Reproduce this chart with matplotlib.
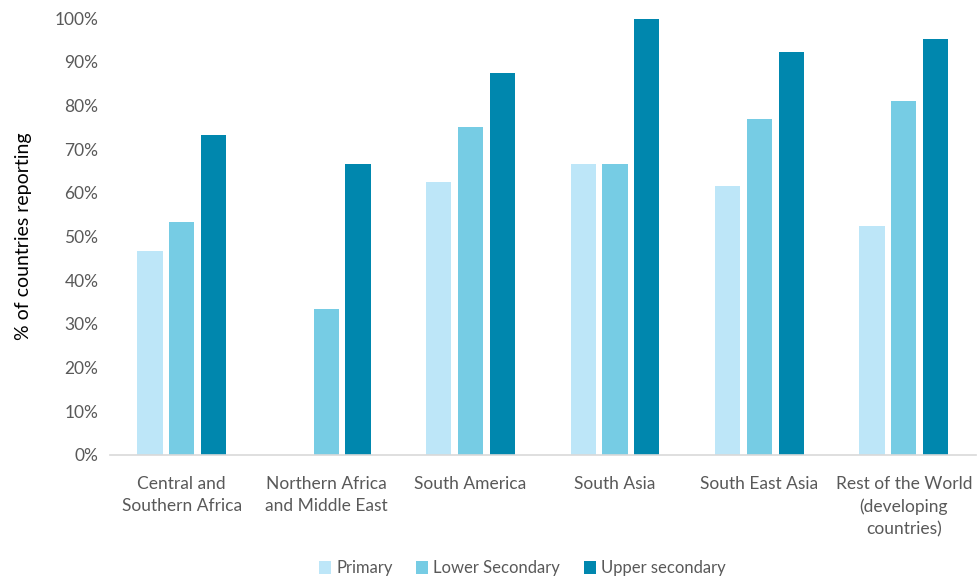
import matplotlib.pyplot as plt
import numpy as np
from matplotlib.ticker import FuncFormatter

# Daten
regions = ['Central and\nSouthern Africa', 'Northern Africa\nand Middle East', 'South America',
           'South Asia', 'South East Asia', 'Rest of the World\n(developing\ncountries)']
primary = [46.7, 0, 62.5, 66.7, 61.5, 52.4]
lower_secondary = [53.3, 33.3, 75.0, 66.7, 76.9, 81.0]
upper_secondary = [73.3, 66.7, 87.5, 99.7, 92.3, 95.2]
series_names = ['Primary', 'Lower Secondary', 'Upper secondary']
colors = ['#BDE6F8', '#76CCE4', '#0087AE']

plt.rcParams['font.family'] = ['Lato', 'DejaVu Sans']
text_col = '#595959'

fig = plt.figure(figsize=(9.78, 5.81), dpi=100)
ax = fig.add_axes([0.112, 0.217, 0.886, 0.752])

x = np.arange(len(regions))
width = 0.175
step = 0.22
for i, (vals, name, c) in enumerate(zip([primary, lower_secondary, upper_secondary], series_names, colors)):
    ax.bar(x + (i - 1) * step, vals, width, color=c, label=name)

ax.set_ylim(0, 100)
ax.set_xlim(-0.5, len(regions) - 0.5)
ax.set_yticks(range(0, 101, 10))
ax.yaxis.set_major_formatter(FuncFormatter(lambda v, p: f'{int(v)}%'))
ax.set_xticks(x)
ax.set_xticklabels(regions, fontsize=12.5, color=text_col, linespacing=1.5)
ax.tick_params(axis='y', labelsize=12.5, labelcolor=text_col, length=0, pad=8)
ax.tick_params(axis='x', length=0, pad=15)
ax.set_ylabel('% of countries reporting', fontsize=14, color='black', labelpad=16)

for s in ['top', 'right', 'left']:
    ax.spines[s].set_visible(False)
ax.spines['bottom'].set_color('#D9D9D9')
ax.spines['bottom'].set_linewidth(1.2)

fig.legend(loc='center', bbox_to_anchor=(0.534, 0.022), ncol=3, frameon=False,
           fontsize=12, labelcolor=text_col, handlelength=0.75, handleheight=0.75,
           handletextpad=0.3, columnspacing=1.4)

fig.savefig('out.png', dpi=100)
